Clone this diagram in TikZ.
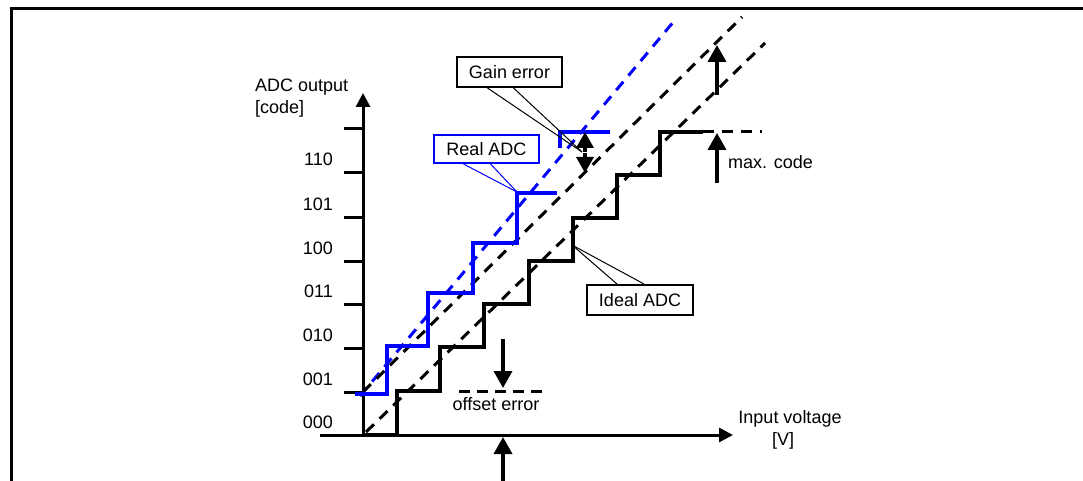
\documentclass[tikz,border=0pt]{standalone}
\usepackage{fontspec}
\setmainfont{Liberation Sans}
\usetikzlibrary{arrows.meta}
\definecolor{adcblue}{RGB}{0,0,255}
\begin{document}
\begin{tikzpicture}[x=1pt,y=-1pt,
  txt/.style={font=\fontsize{18}{22}\selectfont, inner sep=0pt},
  axisline/.style={line width=3pt, -{Triangle[width=14pt,length=14pt]}},
  tickline/.style={line width=3pt},
  stair/.style={line width=4pt, line join=miter},
  dline/.style={line width=3pt, dash pattern=on 11pt off 8pt},
  bigarrow/.style={line width=3.5pt, -{Triangle[width=18pt,length=17pt]}},
  smallarrow/.style={line width=3.5pt, -{Triangle[width=17pt,length=16pt]}},
  callbox/.style={draw, line width=2pt, minimum width=105pt, minimum height=30pt, inner sep=0pt, font=\fontsize{18}{22}\selectfont},
  callline/.style={line width=1pt}
]
\useasboundingbox (0,0) rectangle (1083,481);
% frame
\draw[line width=3pt] (11,490) -- (11,9) -- (1090,9);

% axes
\coordinate (O) at (363,435);
\coordinate (ytop) at (363,93);
\coordinate (xleft) at (320,435);
\coordinate (xright) at (733,435);
\draw[axisline] (O) -- (ytop);
\draw[axisline] (xleft) -- (xright);

% ticks and code labels
\foreach \y in {392,348,304,261,217,173,129} {
  \draw[tickline] (344,\y) -- (363,\y);
}
\foreach \y/\lab in {428/000,385/001,341/010,297/011,254/100,210/101,166/110} {
  \node[txt, anchor=base east] (c\lab) at (333,\y) {\lab};
}
\node[txt, anchor=base west] (ylab1) at (255,92) {ADC output};
\node[txt, anchor=base west] (ylab2) at (255,114) {[code]};
\node[txt, anchor=base] (xlab1) at (790,423) {Input voltage};
\node[txt, anchor=base] (xlab2) at (783,445) {[V]};

% dashed reference lines
\draw[dline, adcblue] (360,396) -- (675,20);
\draw[dline] (363,392) -- (742,17);
\draw[dline] (366,432) -- (765,43);

% ideal staircase
\draw[stair] (363,435) -- (397,435) -- (397,391) -- (440,391) -- (440,347) -- (484,347)
  -- (484,304) -- (529,304) -- (529,261) -- (573,261) -- (573,218) -- (617,218)
  -- (617,175) -- (660,175) -- (660,132) -- (703,132);
\draw[dline] (703,132) -- (762,132);

% real staircase
\draw[stair, adcblue] (355,394) -- (387,394) -- (387,346) -- (428,346) -- (428,293)
  -- (473,293) -- (473,243) -- (517,243) -- (517,193) -- (557,193);
\draw[stair, adcblue] (560,148) -- (560,132) -- (610,132);

% gain error arrows
\draw[smallarrow] (585,152) -- (585,132);
\draw[smallarrow] (585,153) -- (585,173);

% right-side arrows
\draw[bigarrow] (717,95) -- (717,45);
\draw[bigarrow] (717,183) -- (717,133);
\node[txt, anchor=base west] (maxcode) at (728,168) {max. code};

% offset error
\draw[bigarrow] (503,339) -- (503,388);
\draw[line width=3pt, dash pattern=on 11pt off 7pt] (459,391) -- (548,391);
\draw[bigarrow] (503,485) -- (503,437);
\node[txt, anchor=base] (offset) at (496,410) {offset error};

% callout boxes
\node[callbox, fill=white] (gain) at (509.5,72) {Gain error};
\coordinate (gainpt) at (582,152);
\draw[callline] ([xshift=-22pt]gain.south) -- (gainpt);
\draw[callline] ([xshift=4pt]gain.south) -- (gainpt);

\node[callbox, draw=adcblue, fill=white, minimum height=28pt] (real) at (486.5,149) {Real ADC};
\coordinate (realpt) at (517,192);
\draw[callline, adcblue] ([xshift=-23pt]real.south) -- (realpt);
\draw[callline, adcblue] ([xshift=4pt]real.south) -- (realpt);

\node[callbox, minimum width=106pt] (ideal) at (640,300) {Ideal ADC};
\coordinate (idealpt) at (572,245);
\draw[callline] ([xshift=-23pt]ideal.north) -- (idealpt);
\draw[callline] ([xshift=4pt]ideal.north) -- (idealpt);
\end{tikzpicture}
\end{document}
